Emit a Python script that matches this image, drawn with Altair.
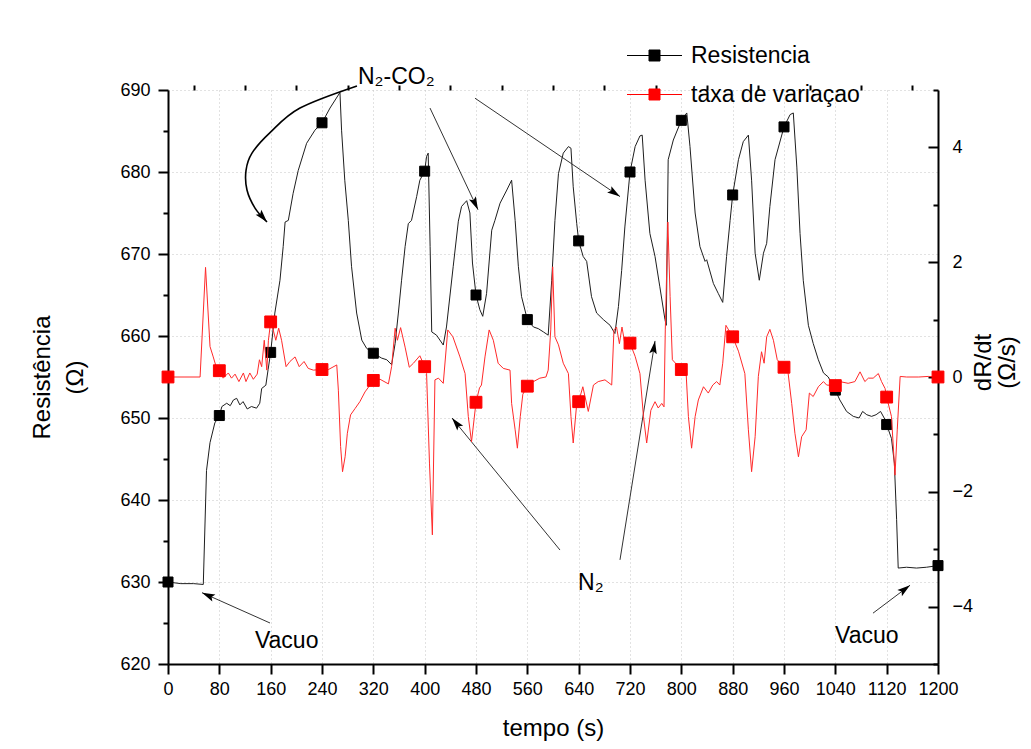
import math
import altair as alt
import pandas as pd

# ---------------- data ----------------
t_res = [0, 20, 40, 55, 60, 65.5, 73, 80, 84, 91.5, 97, 102, 107, 112, 117, 123.5, 130, 138, 143, 146,
         152.5, 156, 160, 166.5, 174.5, 179.5, 182.5, 187.5, 195, 203, 216, 229, 240, 252.5, 268, 270.5,
         275.5, 281, 286, 294, 302, 309.5, 320, 333, 341, 348.5, 354, 359, 364, 369.5, 374.5, 379.5,
         387.5, 392.5, 400, 403, 405.5, 408.5, 411, 418.5, 429, 434, 444.5, 452.5, 457.5, 465.5, 470.5,
         474.5, 480, 486, 490.5, 496.5, 504.5, 509.5, 517.5, 528, 535.5, 541, 546, 551, 560, 569.5, 577,
         585, 592.5, 598, 603, 608.5, 616, 624, 628, 631.5, 637, 640, 647, 652.5, 660, 668, 678.5, 689,
         696.5, 702, 707, 712, 720, 728, 735.5, 739, 743.5, 751, 759, 766.5, 774.5, 776.5, 779.5, 787.5,
         800, 808.5, 813.5, 821.5, 829, 837, 839.5, 850, 857.5, 864.5, 870.5, 876, 880, 889, 896.5, 904.5,
         909.5, 915, 921.5, 928, 933, 938, 946, 960, 969.5, 974.5, 980, 985, 990, 998, 1005.5, 1013.5,
         1021.5, 1029, 1037, 1040, 1047, 1057.5, 1068, 1077, 1082.5, 1089, 1096.5, 1103.5, 1110.5, 1117.5,
         1120, 1127.5, 1132, 1135.5, 1138, 1151, 1166.5, 1182, 1200]
resistencia = [630.0, 629.8, 629.8, 629.7, 643.6, 647.0, 649.4, 650.3, 651.4, 651.8, 651.5, 652.2, 652.4,
               651.6, 652.0, 651.1, 651.4, 651.2, 651.8, 653.6, 654.0, 655.9, 658.0, 662.8, 666.8, 670.9,
               673.9, 674.1, 677.4, 680.2, 683.5, 685.1, 686.0, 687.8, 689.7, 685.1, 679.0, 674.1, 668.5,
               662.8, 659.5, 658.5, 657.9, 657.3, 657.1, 656.5, 659.1, 662.8, 666.8, 670.9, 673.7, 674.1,
               677.0, 679.0, 680.1, 681.9, 682.3, 670.9, 660.5, 660.1, 658.9, 661.1, 668.5, 674.0, 675.8,
               676.5, 675.0, 668.9, 665.0, 663.2, 662.4, 665.2, 672.9, 674.1, 676.2, 677.8, 679.0, 674.1,
               668.5, 664.8, 662.0, 661.1, 660.9, 660.5, 660.1, 666.8, 674.1, 679.8, 682.3, 683.1, 682.9,
               678.2, 673.7, 671.6, 669.7, 669.1, 664.8, 662.8, 662.0, 661.3, 660.3, 663.6, 668.0, 673.3,
               680.0, 683.1, 684.4, 684.5, 679.0, 672.5, 669.7, 666.0, 662.0, 661.3, 681.5, 683.9, 686.3,
               687.2, 683.1, 675.0, 670.9, 669.1, 669.3, 666.4, 665.2, 664.1, 669.7, 674.1, 677.2, 681.5,
               683.7, 684.5, 679.0, 670.1, 666.8, 670.1, 671.3, 675.8, 681.5, 685.5, 687.0, 687.2, 680.6,
               672.5, 666.8, 661.3, 659.1, 657.1, 655.5, 655.0, 653.8, 653.4, 652.2, 650.8, 650.2, 650.0,
               650.8, 650.4, 650.2, 650.4, 650.8, 649.8, 649.2, 647.5, 644.5, 637.6, 631.7, 631.8, 631.7,
               631.8, 632.0]

t_taxa = [0, 25, 50, 58.5, 65.5, 70.5, 75, 80, 86, 94, 99, 104.5, 110.5, 117.5, 121.5, 127.5, 133, 139,
          142.5, 146, 150, 154, 156.5, 160, 164, 168, 172.5, 177, 184, 190, 198, 204.5, 212, 218.5, 226.5,
          240, 250, 263, 265.5, 269, 272, 276, 279.5, 284.5, 291.5, 299, 307, 320, 330.5, 343.5, 348.5, 354,
          357.5, 362.5, 369.5, 376, 382.5, 392.5, 400, 403, 407.5, 412, 416, 421.5, 429, 436, 444, 455, 463,
          468, 473, 480, 485.5, 488.5, 494, 500.5, 507, 514.5, 522.5, 533, 535.5, 541, 544.5, 549, 553, 560,
          569.5, 579.5, 589, 592.5, 596.5, 599.5, 603, 608.5, 616, 624, 628, 631.5, 637, 640, 646.5, 655,
          663, 670.5, 681, 691.5, 695, 699, 703.5, 707.5, 712, 720, 728, 735.5, 741, 746, 752.5, 759, 764,
          769.5, 773, 775, 779, 782.5, 786, 800, 807.5, 811, 816, 821.5, 826.5, 834.5, 842, 849, 855, 860,
          864.5, 869.5, 880, 889, 899, 904.5, 909.5, 915, 920, 925, 929, 933, 938, 943.5, 949.5, 960, 966.5,
          972, 977, 982.5, 987.5, 994.5, 999.5, 1005.5, 1013.5, 1021.5, 1026.5, 1040, 1047, 1060, 1070.5,
          1078.5, 1086, 1091.5, 1099, 1107, 1112, 1117.5, 1120, 1127.5, 1133, 1136.5, 1141, 1151, 1170,
          1185, 1200]
taxa = [0, 0, 0, 1.91, 0.53, 0.35, 0.18, 0.11, -0.02, 0.07, -0.02, 0.05, -0.08, 0.07, -0.08, 0.07, -0.04,
        0.05, 0.3, 0.18, 0.64, 0.12, 0.64, 0.96, 0.82, 0.64, 0.85, 0.64, 0.18, 0.27, 0.35, 0.18, 0.27, 0.15,
        0.12, 0.13, 0.13, 0.21, -0.23, -1.21, -1.65, -1.39, -0.98, -0.66, -0.55, -0.43, -0.26, -0.06, -0.04,
        -0.12, 0.18, 0.85, 0.64, 0.86, 0.52, 0.17, 0.24, 0.37, 0.18, 0.06, -1.5, -2.75, -0.05, -0.02, -0.11,
        0.82, 0.7, 0.35, 0.06, -0.69, -1.13, -0.44, -0.19, -0.14, 0.35, 0.82, 0.64, 0.24, 0.15, 0.12, -0.46,
        -0.92, -1.24, -0.69, -0.3, -0.16, -0.08, -0.02, 0.0, 0.12, 0.82, 1.92, 0.7, 0.56, 0.24, 0.06, -0.69,
        -1.15, -0.46, -0.43, -0.17, -0.6, -0.14, -0.08, -0.05, -0.14, 0.82, 0.87, 0.58, 0.87, 0.58, 0.59,
        0.36, 0.06, -0.69, -1.15, -0.58, -0.43, -0.54, -0.46, -0.52, 0.82, 2.7, 1.4, 0.3, 0.13, 0.06, -0.69,
        -1.24, -0.69, -0.4, -0.17, -0.28, -0.14, -0.08, -0.14, 0.24, 0.9, 0.7, 0.45, 0.06, -0.92, -1.65,
        -1.04, 0.01, 0.44, 0.24, 0.7, 0.83, 0.64, 0.3, 0.17, 0.06, -0.46, -0.98, -1.39, -1.04, -0.92, -0.28,
        -0.34, -0.17, -0.08, -0.14, -0.15, -0.08, -0.11, -0.08, 0.09, -0.08, -0.02, -0.02, 0.06, -0.08,
        -0.2, -0.35, -0.69, -1.71, -0.92, 0.01, 0.0, 0.0, 0.01, 0.0]

series_names = ["Resistencia", "taxa de variaçao"]
series_colors = ["#000000", "#ff0000"]

x_ticks = list(range(0, 1201, 80))
x_minor = list(range(40, 1200, 80))
yl_ticks = list(range(620, 691, 10))
yl_minor = list(range(625, 690, 10))
yr_ticks = [-4, -2, 0, 2, 4]
yr_minor = [-5, -3, -1, 1, 3, 5]

# annotation texts (in time / resistance coordinates)
ann_text = ["N₂-CO₂", "N₂", "Vacuo", "Vacuo"]
ann_t = [296, 639, 135.5, 1039.5]
ann_r = [690.7, 629.0, 621.95, 622.6]

# straight arrows: start -> tip
arr_t0 = [408.3, 478.4, 610.9, 704.4, 159.0, 1098.7]
arr_r0 = [687.8, 689.0, 633.9, 632.7, 625.0, 626.2]
arr_t1 = [483.1, 704.4, 442.6, 759.0, 53.0, 1156.4]
arr_r1 = [675.4, 677.0, 650.0, 659.4, 628.7, 629.6]

# curved arrow
curve_t = [294.5, 205.7, 159.0, 130.9, 121.6, 123.1, 135.6, 154.3]
curve_r = [690.5, 687.8, 684.8, 682.3, 680.2, 677.8, 675.6, 673.9]

# ---------------- chart ----------------
FONT = "Liberation Sans"
W, H = 770, 574
X0, X1, Y0, Y1 = 0, 1200, 620, 690
SX, SY = W / (X1 - X0), H / (Y1 - Y0)

df_r = pd.DataFrame({"t": t_res, "v": resistencia})
df_d = pd.DataFrame({"t": t_taxa, "v": taxa})

xs = alt.Scale(domain=[X0, X1], nice=False, zero=False)
yls = alt.Scale(domain=[Y0, Y1], nice=False, zero=False)
yrs = alt.Scale(domain=[-5, 5], nice=False, zero=False)
fill_scale = alt.Scale(domain=series_names, range=series_colors)

GRID = dict(gridColor="#c4c4c4", gridDash=[1, 3], gridWidth=1)
TICK = dict(tickColor="black", tickWidth=2)
LAB = dict(labelFont=FONT, labelFontSize=18, labelColor="black", labelFlush=False, labelOverlap=False)
TIT = dict(titleFont=FONT, titleFontSize=24, titleFontWeight="normal", titleColor="black")

ax_x = alt.Axis(values=x_ticks, format="d", title="tempo (s)", grid=True, **GRID, **TICK, tickSize=10,
                domainColor="black", domainWidth=2, **LAB, labelPadding=6, **TIT,
                titleX=385, titleY=71, titleBaseline="alphabetic", titleAlign="center")
ax_x_minor = alt.Axis(values=x_minor, labels=False, domain=False, grid=False, **TICK, tickSize=5, title=None)

ax_yl = alt.Axis(orient="left", values=yl_ticks, format="d", title=["Resistência", "(Ω)"], grid=True,
                 **GRID, **TICK, tickSize=10, domainColor="black", domainWidth=2, **LAB, labelPadding=8,
                 **TIT, titleAngle=270, titleX=-126, titleY=H / 2, titleBaseline="middle",
                 titleAlign="center", titleLineHeight=33)
ax_yl_minor = alt.Axis(orient="left", values=yl_minor, labels=False, domain=False, grid=False, **TICK,
                       tickSize=5, title=None)

ax_yr = alt.Axis(orient="right", values=yr_ticks, format="d", title=["dR/dt", "(Ω/s)"], grid=False,
                 ticks=False, tickSize=0, domainColor="black", domainWidth=2, **LAB, labelPadding=14,
                 **TIT, titleAngle=270, titleX=45, titleY=272, titleBaseline="middle", titleAlign="center",
                 titleLineHeight=24)
ax_yr_major = alt.Axis(orient="left", offset=-W, values=yr_ticks, labels=False, domain=False, grid=False,
                       **TICK, tickSize=10, title=None)
ax_yr_minor = alt.Axis(orient="left", offset=-W, values=yr_minor, labels=False, domain=False, grid=False,
                       **TICK, tickSize=5, title=None)

legend = alt.Legend(title=None, orient="none", legendX=475, legendY=-46, padding=0,
                    symbolType="M-2.75,0H2.75M-0.55,-0.55H0.55V0.55H-0.55Z", symbolSize=400,
                    symbolStrokeWidth=1, labelFont=FONT, labelFontSize=23, labelColor="black",
                    labelOffset=25, rowPadding=15, labelLimit=400)

marker_filter = "datum.t % 80 == 0"

# resistance layers (left axis)
line_r = alt.Chart(df_r).mark_line(color="#1e1e1e", strokeWidth=1).encode(
    x=alt.X("t:Q", scale=xs, axis=ax_x),
    y=alt.Y("v:Q", scale=yls, axis=ax_yl),
)
marks_r = alt.Chart(df_r).transform_filter(marker_filter).transform_calculate(
    serie=f'"{series_names[0]}"'
).mark_square(size=100, opacity=1, strokeWidth=1).encode(
    x=alt.X("t:Q", scale=xs, axis=ax_x_minor),
    y=alt.Y("v:Q", scale=yls, axis=ax_yl_minor),
    fill=alt.Fill("serie:N", scale=fill_scale, legend=legend),
    stroke=alt.Stroke("serie:N", scale=fill_scale, legend=legend),
)

# annotations in left-axis coordinates
df_txt = pd.DataFrame({"txt": ann_text, "t": ann_t, "v": ann_r})
txt = alt.Chart(df_txt).mark_text(font=FONT, fontSize=23, align="left", baseline="alphabetic",
                                  color="black").encode(
    x=alt.X("t:Q", scale=xs, axis=None),
    y=alt.Y("v:Q", scale=yls, axis=None),
    text="txt:N",
)

rows = []
for i in range(len(arr_t0)):
    rows.append({"id": i, "o": 0, "t": arr_t0[i], "v": arr_r0[i]})
    rows.append({"id": i, "o": 1, "t": arr_t1[i], "v": arr_r1[i]})
df_arr = pd.DataFrame(rows)
arrows = alt.Chart(df_arr).mark_line(color="#333333", strokeWidth=1).encode(
    x=alt.X("t:Q", scale=xs, axis=None),
    y=alt.Y("v:Q", scale=yls, axis=None),
    detail="id:N",
    order="o:Q",
)

df_curve = pd.DataFrame({"o": list(range(len(curve_t))), "t": curve_t, "v": curve_r})
curve = alt.Chart(df_curve).mark_line(color="black", strokeWidth=1.6, interpolate="cardinal").encode(
    x=alt.X("t:Q", scale=xs, axis=None),
    y=alt.Y("v:Q", scale=yls, axis=None),
    order="o:Q",
)


def ang(dt, dv):
    return math.degrees(math.atan2(dt * SX, dv * SY)) % 360


heads_t = arr_t1 + [curve_t[-1]]
heads_r = arr_r1 + [curve_r[-1]]
heads_a = [ang(arr_t1[i] - arr_t0[i], arr_r1[i] - arr_r0[i]) for i in range(len(arr_t0))]
heads_a.append(ang(curve_t[-1] - curve_t[-2], curve_r[-1] - curve_r[-2]))
df_heads = pd.DataFrame({"t": heads_t, "v": heads_r, "a": heads_a})
heads = alt.Chart(df_heads).mark_point(shape="M0,0L0.38,1.3L0,1.05L-0.38,1.3Z", filled=True, size=400,
                                        color="black", opacity=1, strokeWidth=0).encode(
    x=alt.X("t:Q", scale=xs, axis=None),
    y=alt.Y("v:Q", scale=yls, axis=None),
    angle=alt.Angle("a:Q", scale=None),
)

layer_a = alt.layer(line_r, marks_r, txt, arrows, curve, heads).resolve_axis(x="independent",
                                                                           y="independent")

# rate layers (right axis)
line_d = alt.Chart(df_d).mark_line(color="#ff2a2a", strokeWidth=1).encode(
    x=alt.X("t:Q", scale=xs, axis=None),
    y=alt.Y("v:Q", scale=yrs, axis=ax_yr),
)
marks_d = alt.Chart(df_d).transform_filter(marker_filter).transform_calculate(
    serie=f'"{series_names[1]}"'
).mark_square(size=140, opacity=1, strokeWidth=1).encode(
    x=alt.X("t:Q", scale=xs, axis=None),
    y=alt.Y("v:Q", scale=yrs, axis=ax_yr_major),
    fill=alt.Fill("serie:N", scale=fill_scale, legend=legend),
    stroke=alt.Stroke("serie:N", scale=fill_scale, legend=legend),
)
ghost_d = alt.Chart(df_d).mark_line(opacity=0).encode(
    x=alt.X("t:Q", scale=xs, axis=None),
    y=alt.Y("v:Q", scale=yrs, axis=ax_yr_minor),
)
layer_b = alt.layer(line_d, marks_d, ghost_d).resolve_axis(y="independent")

chart = alt.layer(layer_a, layer_b).resolve_scale(y="independent").properties(
    width=W, height=H,
    autosize=alt.AutoSizeParams(type="none"),
    padding={"left": 160, "top": 82, "right": 85, "bottom": 77},
).configure(font=FONT).configure_view(stroke=None)

chart.save("out.html", embed_options={"renderer": "svg", "actions": False})
